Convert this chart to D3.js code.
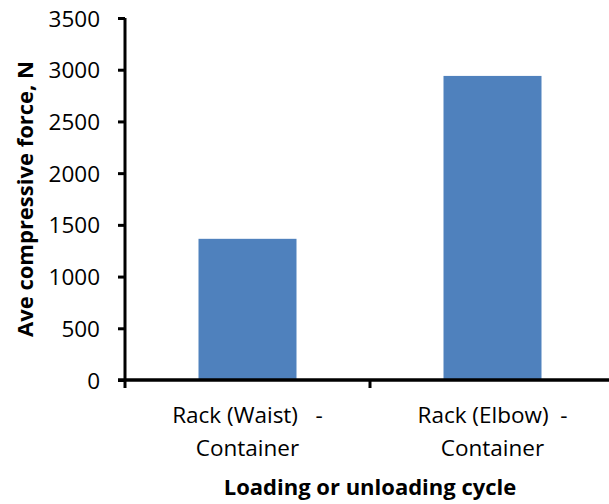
<!DOCTYPE html>
<html>
<head>
<meta charset="utf-8">
<script src="https://cdn.jsdelivr.net/npm/d3@7"></script>
<style>
    body { margin: 0; background: #fff; overflow: hidden; }
    text { font-family: "Open Sans", sans-serif; fill: #000; }
</style>
</head>
<body>
<div id="chart"></div>
<script>
// chart data
let categories = ["Rack (Waist)   -|Container", "Rack (Elbow)  -|Container"];
let forces = [1365, 2940];
let yTicks = [0, 500, 1000, 1500, 2000, 2500, 3000, 3500];

let svgWidth = 609;
let svgHeight = 504;

let margin = { top: 18, bottom: 124, left: 125 };
// plot area runs a little past the right edge, as in the original
let width = 490;
let height = svgHeight - margin.top - margin.bottom;

let svg = d3.select("#chart")
    .append("svg")
    .attr("width", svgWidth)
    .attr("height", svgHeight);

let chartGroup = svg.append("g")
    .attr("transform", `translate(${margin.left}, ${margin.top})`);

let xScale = d3.scaleBand()
    .domain(categories)
    .range([0, width])
    .paddingInner(0.6)
    .paddingOuter(0.3);

let yScale = d3.scaleLinear()
    .domain([0, 3500])
    .range([height, 0]);

// bars
chartGroup.selectAll("rect")
    .data(forces)
    .enter()
    .append("rect")
    .attr("x", (d, i) => xScale(categories[i]))
    .attr("y", d => yScale(d))
    .attr("width", xScale.bandwidth())
    .attr("height", d => height - yScale(d))
    .attr("fill", "#4F81BD");

// y axis
let leftAxis = d3.axisLeft(yScale)
    .tickValues(yTicks)
    .tickSize(7)
    .tickPadding(18)
    .tickFormat(d3.format("d"));

let yAxis = chartGroup.append("g").call(leftAxis);
yAxis.attr("font-family", null).attr("font-size", null);
yAxis.select(".domain").attr("stroke-width", 3).attr("d", `M0,${height}V0`);
yAxis.selectAll(".tick line").attr("stroke-width", 3);
yAxis.selectAll(".tick text").attr("font-size", "22.5px").attr("dy", "0.36em");

// x axis, ticks sit on the category boundaries
let boundaries = d3.range(categories.length).map(i => i * width / categories.length);

let xAxis = chartGroup.append("g")
    .attr("transform", `translate(0, ${height})`);

xAxis.append("line")
    .attr("x1", -7).attr("x2", width)
    .attr("stroke", "#000")
    .attr("stroke-width", 3.5);

xAxis.selectAll(".xtick")
    .data(boundaries)
    .enter()
    .append("line")
    .attr("x1", d => d).attr("x2", d => d)
    .attr("y1", 0).attr("y2", 8)
    .attr("stroke", "#000")
    .attr("stroke-width", 3);

// category labels on two lines
let labels = xAxis.selectAll(".xlabel")
    .data(categories)
    .enter()
    .append("text")
    .attr("text-anchor", "middle")
    .attr("font-size", "22.5px")
    .style("white-space", "pre");

labels.each(function (d) {
    let parts = d.split("|");
    let t = d3.select(this);
    parts.forEach((p, k) => {
        t.append("tspan")
            .attr("x", xScale(d) + xScale.bandwidth() / 2)
            .attr("y", 43 + k * 33)
            .text(p);
    });
});

// axis titles
svg.append("text")
    .attr("x", 370)
    .attr("y", 495)
    .attr("text-anchor", "middle")
    .attr("font-size", "22px")
    .attr("font-weight", "bold")
    .text("Loading or unloading cycle");

svg.append("text")
    .attr("transform", `translate(33, ${margin.top + height / 2}) rotate(-90)`)
    .attr("text-anchor", "middle")
    .attr("font-size", "22px")
    .attr("font-weight", "bold")
    .text("Ave compressive force, N");
</script>
</body>
</html>
